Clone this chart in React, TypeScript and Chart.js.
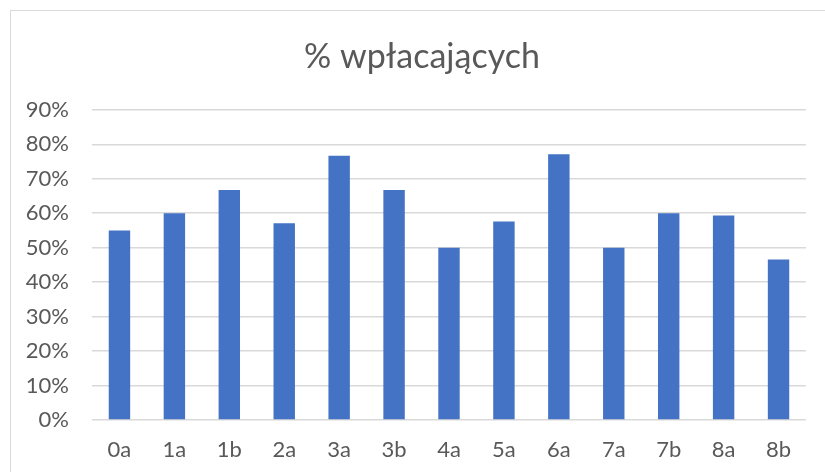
import React, { useEffect, useRef } from "react";
import { Chart, registerables } from "chart.js";

Chart.register(...registerables);

const categories = ["0a", "1a", "1b", "2a", "3a", "3b", "4a", "5a", "6a", "7a", "7b", "8a", "8b"];
const values = [55, 60, 66.7, 57.1, 76.7, 66.7, 50, 57.6, 77.1, 50, 60, 59.3, 46.6];
const yTicks = [0, 10, 20, 30, 40, 50, 60, 70, 80, 90];
const title = "% wpłacających";

export default function App() {
  const ref = useRef<HTMLCanvasElement | null>(null);

  useEffect(() => {
    if (!ref.current) return;
    const chart = new Chart(ref.current, {
      type: "bar",
      data: {
        labels: categories,
        datasets: [
          {
            data: values,
            backgroundColor: "#4472C4",
            borderWidth: 0,
            barPercentage: 0.39,
            categoryPercentage: 1,
          },
        ],
      },
      options: {
        responsive: false,
        animation: false,
        devicePixelRatio: 1,
        layout: { padding: { left: 38, right: 19, top: 0, bottom: 0 } },
        plugins: {
          legend: { display: false },
          tooltip: { enabled: false },
          title: {
            display: true,
            text: title,
            color: "#595959",
            font: { family: "Lato", size: 34, weight: "normal", lineHeight: 1.2 },
            padding: { top: 37, bottom: 32 },
          },
        },
        scales: {
          x: {
            afterFit: (scale: any) => {
              scale.height = 52;
            },
            grid: { display: false, drawTicks: false },
            border: { display: false },
            ticks: {
              color: "#595959",
              font: { family: "Lato", size: 22 },
              padding: 17,
              maxRotation: 0,
              autoSkip: false,
            },
          },
          y: {
            min: 0,
            max: 90,
            afterFit: (scale: any) => {
              scale.width = 54;
              // let the tick labels extend left of the axis box without clipping
              scale._computeLabelArea = () => undefined;
            },
            afterBuildTicks: (scale: any) => {
              scale.ticks = yTicks.map((v) => ({ value: v }));
            },
            grid: { color: "#D9D9D9", lineWidth: 1.5, drawTicks: false },
            border: { display: false },
            ticks: {
              color: "#595959",
              font: { family: "Lato", size: 22 },
              padding: 23,
              callback: (v: any) => `${v}%`,
            },
          },
        },
      },
    });
    return () => chart.destroy();
  }, []);

  return (
    <div
      style={{
        position: "absolute",
        left: 0,
        top: 0,
        width: 825,
        height: 472,
        overflow: "hidden",
        background: "#ffffff",
      }}
    >
      <div
        style={{
          position: "absolute",
          left: 10,
          top: 10,
          width: 840,
          height: 500,
          border: "1.5px solid #D9D9D9",
          boxSizing: "border-box",
        }}
      />
      <canvas
        ref={ref}
        width={825}
        height={472}
        style={{ position: "absolute", left: 0, top: 0, display: "block" }}
      />
    </div>
  );
}
